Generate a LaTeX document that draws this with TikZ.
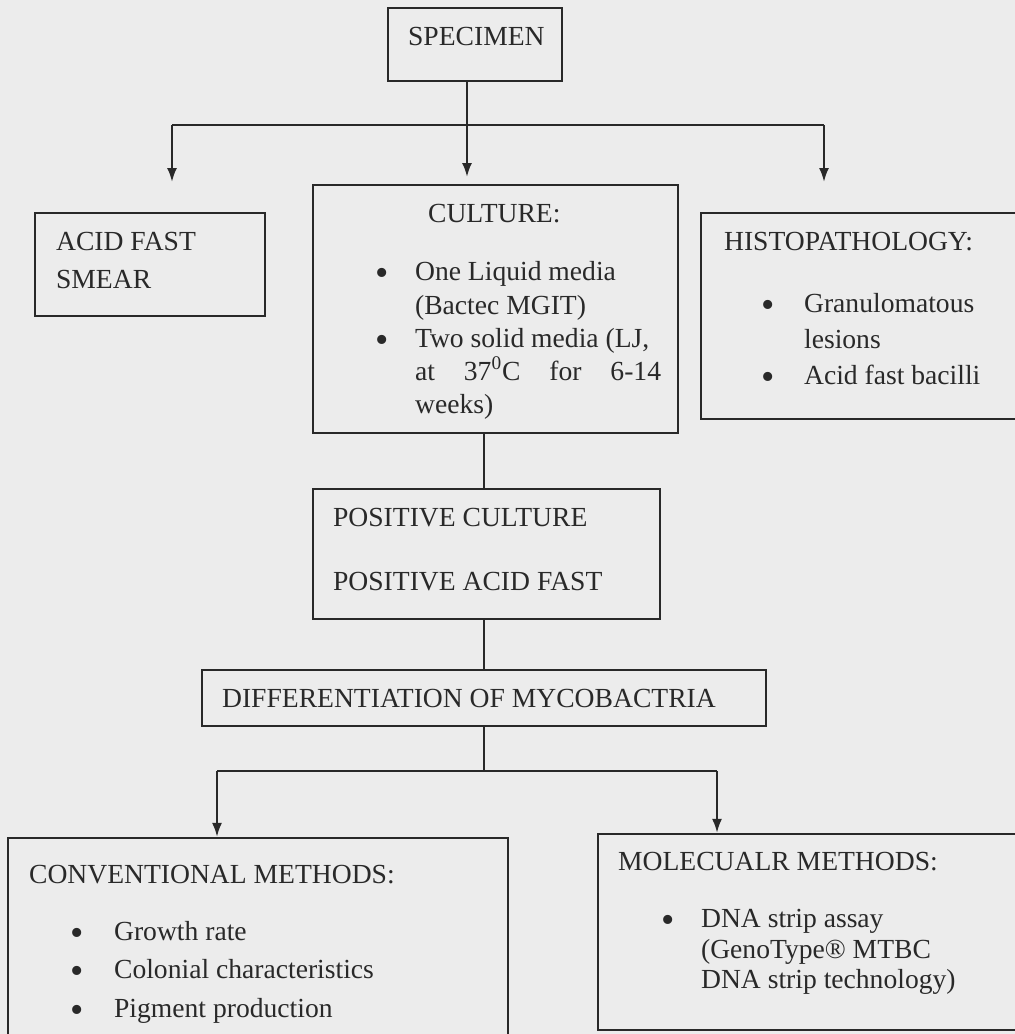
\documentclass[tikz,border=0pt]{standalone}
\usepackage{fontspec}
\setmainfont{Liberation Serif}
\usetikzlibrary{arrows.meta,fit}

\definecolor{ink}{gray}{0.16}
\definecolor{paper}{gray}{0.925}

\begin{document}
\begin{tikzpicture}[inner sep=0mm,>={Latex[length=7pt,width=5pt]},x=0.5pt,y=-0.5pt,
    color=ink,line width=1.1pt,
    box/.style={draw,inner sep=0pt},
    txt/.style={anchor=base west,font=\fontsize{13.8}{16}\selectfont},
    dot/.style={anchor=base,yshift=-2.5pt,font=\fontsize{19}{19}\selectfont}]
  \fill[paper] (0,0) rectangle (1015,1034);
  \path[use as bounding box,clip] (0,0) rectangle (1015,1034);

  \begin{scope}
    \node[box,fit={(388,8) (562,81)}]    (spec) {};
    \node[box,fit={(35,213) (265,316)}]  (afs)  {};
    \node[box,fit={(313,185) (678,433)}] (cult) {};
    \node[box,fit={(701,213) (1040,419)}] (hist) {};
    \node[box,fit={(313,489) (660,619)}] (pos)  {};
    \node[box,fit={(202,670) (766,726)}] (diff) {};
    \node[box,fit={(8,838) (508,1060)}]  (conv) {};
    \node[box,fit={(598,834) (1040,1030)}] (mol) {};
  \end{scope}

  \node[txt] (spec_t) at (407,45)  {SPECIMEN};
  \node[txt] (afs_1)  at (55,250)  {ACID FAST};
  \node[txt] (afs_2)  at (55,288)  {SMEAR};

  \node[txt] (cult_t) at (427,222) {CULTURE:};
  \foreach \y/\t [count=\k] in {280/{One Liquid media},314/{(Bactec MGIT)},
      347/{Two solid media (LJ,},413/{weeks)}} {
    \node[txt] (cult_\k) at (414,\y) {\t};
  }
  \node[txt] (cult_5) at (414,380) {\makebox[123pt][s]{at 37\textsuperscript{0}C for 6-14}};
  \foreach \y in {280,347} {
    \node[dot] (cult_d\y) at (382,\y) {\textbullet};
  }

  \node[txt] (hist_t) at (723,250) {HISTOPATHOLOGY:};
  \foreach \y/\t [count=\k] in {312/Granulomatous,348/lesions,384/{Acid fast bacilli}} {
    \node[txt] (hist_\k) at (803,\y) {\t};
  }
  \foreach \y in {312,384} {
    \node[dot] (hist_d\y) at (768,\y) {\textbullet};
  }

  \node[txt] (pos_1)  at (332,526) {POSITIVE CULTURE};
  \node[txt] (pos_2)  at (332,590) {POSITIVE ACID FAST};
  \node[txt] (diff_t) at (221,707) {DIFFERENTIATION OF MYCOBACTRIA};

  \node[txt] (conv_t) at (28,883) {CONVENTIONAL METHODS:};
  \foreach \y/\t [count=\k] in {940/{Growth rate},978/{Colonial characteristics},1017/{Pigment production}} {
    \node[txt] (conv_\k) at (113,\y) {\t};
    \node[dot] (conv_d\k) at (77,\y) {\textbullet};
  }

  \node[txt] (mol_t) at (617,870) {MOLECUALR METHODS:};
  \foreach \y/\t [count=\k] in {927/{DNA strip assay},958/{(GenoType® MTBC},988/{DNA strip technology)}} {
    \node[txt] (mol_\k) at (700,\y) {\t};
  }
  \node[dot] (mol_d1) at (668,927) {\textbullet};

  \coordinate (j1) at (467,125);
  \coordinate (a1) at (172,182);
  \coordinate (a2) at (467,177);
  \coordinate (a3) at (824,182);
  \draw (spec.south -| j1) -- (j1);
  \draw (a1 |- j1) -- (a3 |- j1);
  \foreach \i in {1,2,3} {
    \draw[->] (a\i |- j1) -- (a\i);
  }

  \coordinate (j2) at (484,771);
  \draw (j2 |- cult.south) -- (j2 |- pos.north);
  \draw (j2 |- pos.south) -- (j2 |- diff.north);

  \coordinate (b1) at (217,771);
  \coordinate (b2) at (717,771);
  \draw (diff.south) -- (j2);
  \draw (b1) -- (b2);
  \draw[->] (b1) -- (b1 |- conv.north);
  \draw[->] (b2) -- (b2 |- mol.north);
\end{tikzpicture}
\end{document}
